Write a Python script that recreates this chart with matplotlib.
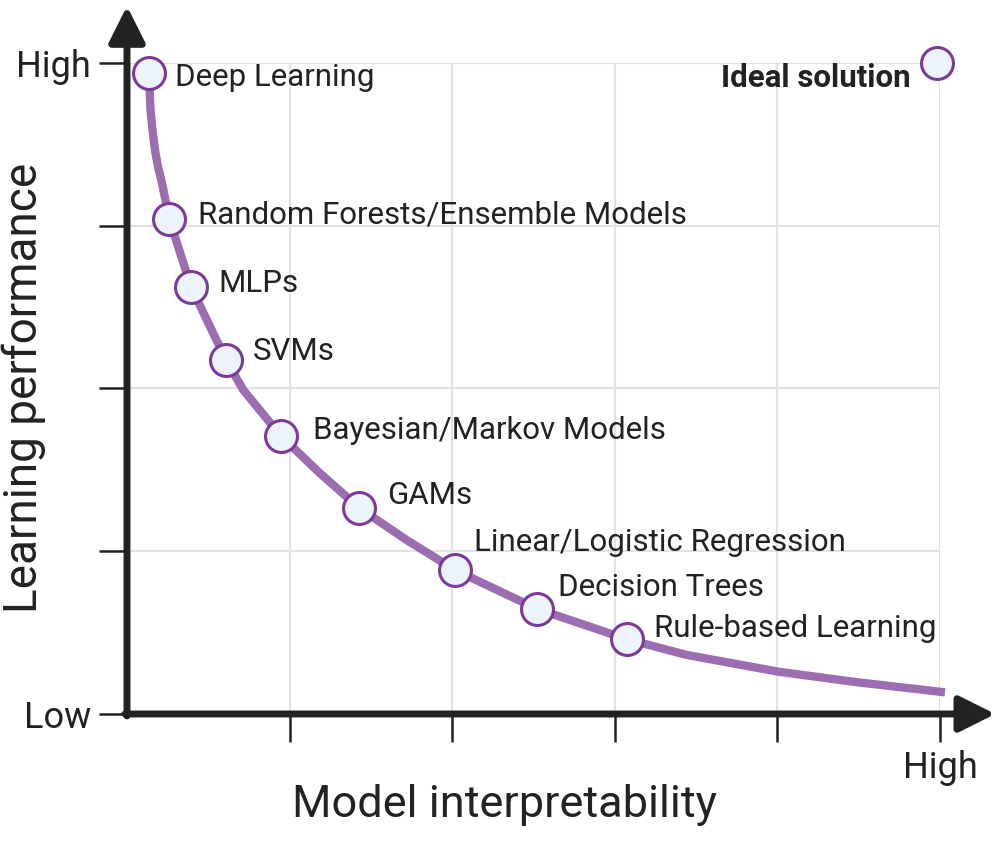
import matplotlib
matplotlib.use("Agg")
import matplotlib.pyplot as plt

plt.rcParams['font.family'] = ['Roboto', 'DejaVu Sans']

# models on the trade-off curve (x: interpretability, y: performance)
models = ["Deep Learning", "Random Forests/Ensemble Models", "MLPs", "SVMs",
          "Bayesian/Markov Models", "GAMs", "Linear/Logistic Regression",
          "Decision Trees", "Rule-based Learning"]
model_x = [0.135, 0.260, 0.394, 0.609, 0.947, 1.427, 2.017, 2.523, 3.077]
model_y = [3.939, 3.041, 2.624, 2.175, 1.708, 1.267, 0.885, 0.645, 0.459]

# points
curve_x = [0.135, 0.1445, 0.157, 0.172, 0.191, 0.215, 0.240, 0.260, 0.394,
           0.609, 0.715, 0.947, 1.187, 1.427, 1.720, 2.017, 2.523, 3.077,
           3.442, 4.006, 4.467, 5.031]
curve_y = [3.939, 3.711, 3.588, 3.465, 3.361, 3.263, 3.140, 3.041, 2.624,
           2.175, 1.991, 1.708, 1.479, 1.267, 1.069, 0.885, 0.645, 0.459,
           0.363, 0.260, 0.198, 0.133]

ideal_x, ideal_y = 4.98, 4.0

# label offsets in pixels (dx, dy)
offsets = [(26, -5), (29, 4), (27, 3), (27, 9), (32, 6), (28, 12),
           (19, 27), (21, 22), (27, 11)]

y_ticklabels = ["Low", "", "", "", "High"]
x_ticklabels = ["", "", "", "", "High"]

txt = "#222222"
line_c = "#9d6db2"
edge_c = "#7b3a9a"
face_c = "#edf3fb"

fig = plt.figure(figsize=(10, 8.41), dpi=100)
ax = fig.add_axes([0.127, 127 / 841, 0.813, 651 / 841])
ax.set_xlim(0, 5)
ax.set_ylim(0, 4)
for s in ax.spines.values():
    s.set_visible(False)

# grid
for gx in range(1, 6):
    ax.plot([gx, gx], [0, 4], color="#e2e2e2", lw=1.5, zorder=0)
for gy in range(1, 5):
    ax.plot([0, 5], [gy, gy], color="#e2e2e2", lw=1.5, zorder=0)

# ticks
ax.set_xticks(range(1, 6))
ax.set_xticklabels(x_ticklabels)
ax.set_yticks(range(0, 5))
ax.set_yticklabels(y_ticklabels)
ax.tick_params(axis="both", length=20, width=1.8, color=txt, labelcolor=txt,
               labelsize=26, pad=6)

# axes with arrows
arr = dict(arrowstyle="-|>,head_length=1.1,head_width=0.55", lw=5,
           color=txt, shrinkA=0, shrinkB=0, mutation_scale=20)
ax.annotate("", xy=(5.34, 0), xytext=(-0.012, 0), xycoords="data",
            arrowprops=arr, annotation_clip=False, zorder=5)
ax.annotate("", xy=(0, 4.35), xytext=(0, -0.012), xycoords="data",
            arrowprops=arr, annotation_clip=False, zorder=5)

# curve and models
ax.plot(curve_x, curve_y, color=line_c, lw=6, solid_capstyle="butt",
        solid_joinstyle="round", clip_on=False, zorder=3)
ax.plot(model_x, model_y, "o", ms=23, mfc=face_c, mec=edge_c, mew=2.2,
        clip_on=False, zorder=4)
for name, mx, my, (dx, dy) in zip(models, model_x, model_y, offsets):
    ax.annotate(name, (mx, my), xytext=(dx, dy), textcoords="offset pixels",
                fontsize=22.5, color=txt, va="center", ha="left")

ax.plot([ideal_x], [ideal_y], "o", ms=23, mfc=face_c, mec=edge_c, mew=2.2,
        clip_on=False, zorder=4)
ax.annotate("Ideal solution", (ideal_x, ideal_y), xytext=(-26, -15),
            textcoords="offset pixels", fontsize=22.5, fontweight="bold",
            color=txt, va="center", ha="right")

fig.text(0.505, 1 - 805 / 841, "Model interpretability", fontsize=32.5,
         color=txt, ha="center", va="center")
fig.text(0.024, 1 - 388 / 841, "Learning performance", fontsize=33,
         color=txt, ha="center", va="center", rotation=90)

fig.savefig("out.png", dpi=100)
